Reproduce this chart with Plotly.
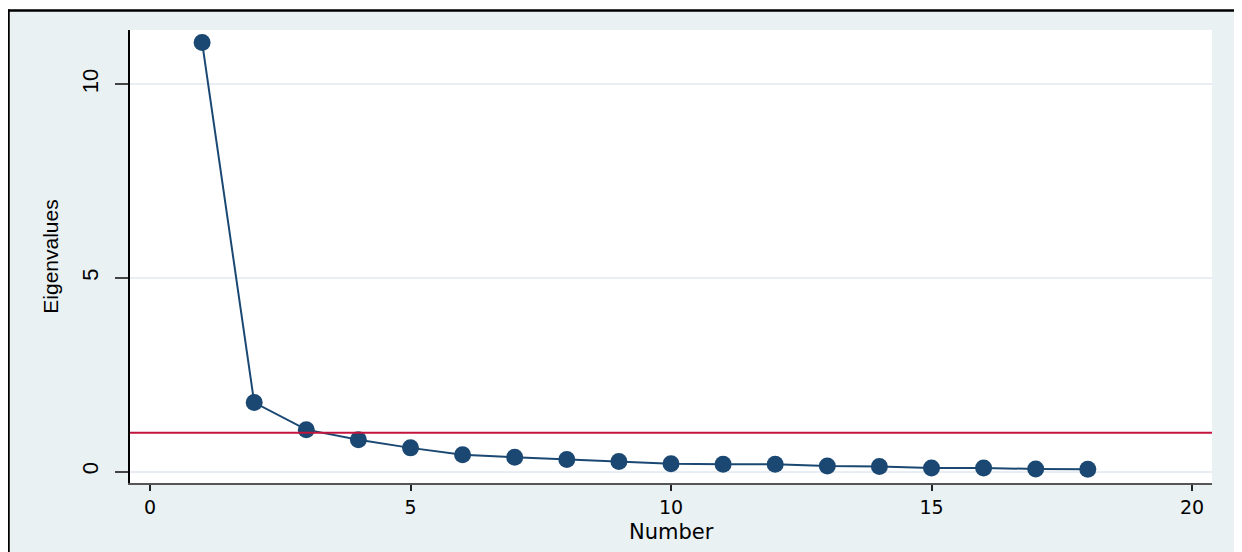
import plotly.graph_objects as go

numbers = list(range(1, 19))
eigenvalues = [11.08, 1.78, 1.08, 0.82, 0.61, 0.43, 0.37, 0.31, 0.26, 0.20,
               0.19, 0.19, 0.14, 0.13, 0.09, 0.09, 0.065, 0.06]
x_ticks = [0, 5, 10, 15, 20]
y_ticks = [0, 5, 10]
ref_value = 1

# the page body adds an 8px margin, so the figure is offset by 8px
OFF = 8
W, H = 1242 - OFF, 552 - OFF
L, R, T, B = 130 - OFF, 30, 30 - OFF, 69
pw, ph = W - L - R, H - T - B


def px_x(p):
    return (p - L) / pw


def px_y(p):
    return (H - B - p) / ph


navy = "#1a4872"
bg = "#e9f1f3"

fig = go.Figure()
fig.add_trace(go.Scatter(
    x=numbers, y=eigenvalues, mode="lines+markers",
    line=dict(color=navy, width=2),
    marker=dict(color=navy, size=17, line=dict(width=0)),
    showlegend=False, cliponaxis=False,
))

shapes = [
    dict(type="line", xref="paper", yref="y", x0=0, x1=1, y0=ref_value, y1=ref_value,
         line=dict(color="#c3143e", width=2), layer="above"),
    dict(type="rect", xref="paper", yref="paper", x0=px_x(0), x1=px_x(W),
         y0=px_y(1.5), y1=px_y(0), fillcolor="white", line=dict(width=0)),
    dict(type="line", xref="paper", yref="paper", x0=px_x(0), x1=px_x(W),
         y0=px_y(2.5), y1=px_y(2.5), line=dict(color="black", width=2.5)),
    dict(type="line", xref="paper", yref="paper", x0=px_x(0.5), x1=px_x(0.5),
         y0=px_y(1.5), y1=px_y(H), line=dict(color="black", width=2.5)),
]

annotations = [
    dict(text="Number", xref="paper", yref="paper", x=0.5, y=px_y(510),
         xanchor="center", yanchor="top", showarrow=False,
         font=dict(size=21, family="DejaVu Sans, sans-serif", color="black")),
]

fig.update_layout(
    width=W, height=H,
    margin=dict(l=L, r=R, t=T, b=B),
    paper_bgcolor=bg, plot_bgcolor="white",
    font=dict(family="Liberation Sans, Arial, sans-serif", color="black"),
    shapes=shapes,
    annotations=annotations,
    xaxis=dict(
        range=[-0.384, 20.384], tickvals=x_ticks, ticktext=[str(v) for v in x_ticks],
        showgrid=False, zeroline=False,
        showline=True, linecolor="#555555", linewidth=2,
        ticks="outside", ticklen=6, tickwidth=2, tickcolor="#222222",
        tickfont=dict(size=19, family="DejaVu Sans, sans-serif"),
    ),
    yaxis=dict(
        range=[-0.297, 11.40], tickvals=y_ticks, ticktext=[str(v) for v in y_ticks],
        showgrid=True, gridcolor="#e8eef3", gridwidth=2, zeroline=False,
        showline=True, linecolor="black", linewidth=2,
        ticks="outside", ticklen=13, tickwidth=1.5, tickcolor="#444444",
        tickangle=-90, ticklabelstandoff=8,
        tickfont=dict(size=22),
        title=dict(text="Eigenvalues", font=dict(size=21), standoff=14),
    ),
)

fig.write_html("out.html")
